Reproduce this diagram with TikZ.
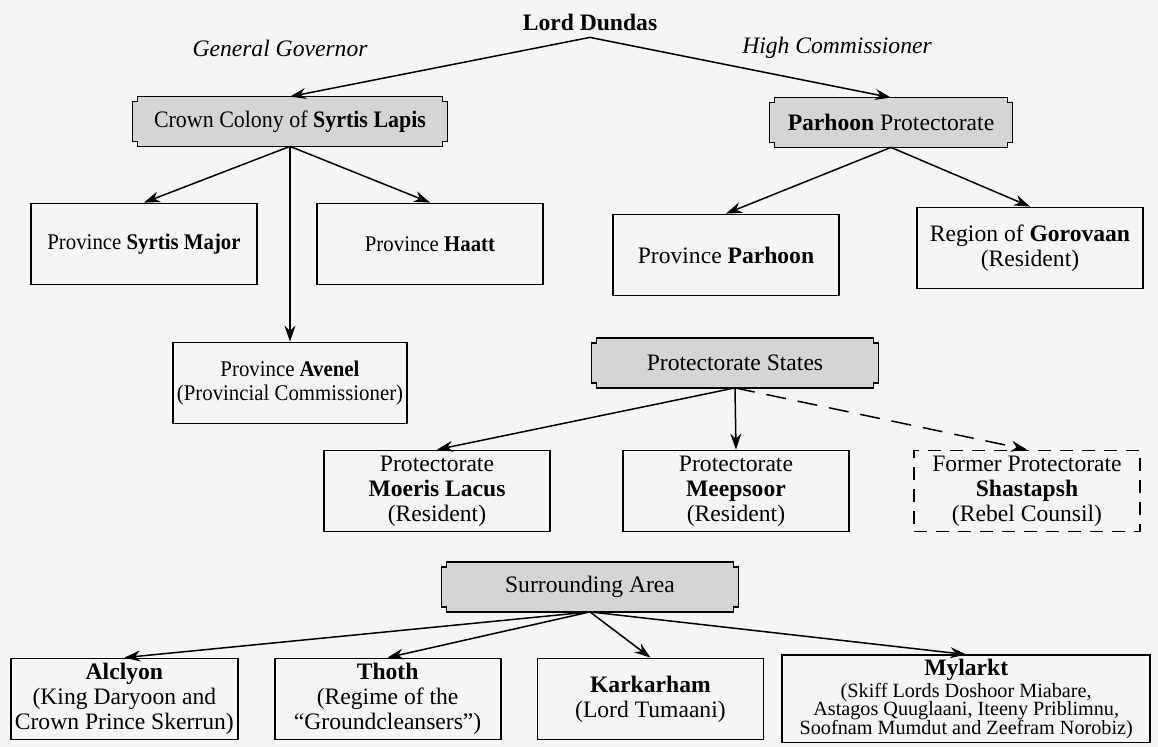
\documentclass[tikz,border=0pt]{standalone}
\usepackage{fontspec}
\setmainfont{Liberation Serif}
\newfontfamily\estrecha[FakeStretch=0.93]{Liberation Serif}
\usetikzlibrary{arrows.meta,calc,chains,backgrounds}

\definecolor{fondo}{RGB}{245,245,245}
\definecolor{gris}{RGB}{213,213,213}
\definecolor{sombra}{RGB}{95,95,95}

\newcommand{\chica}{\fontsize{10.1}{9.3}\selectfont}

\begin{document}
\begin{tikzpicture}[x=0.5pt, y=-0.5pt,
    caja/.style={draw, line width=0.9pt, fill=fondo,
        minimum width=113pt, minimum height=40.5pt,
        align=center, font=\fontsize{11.8}{12.5}\selectfont,
        inner sep=2pt},
    cajaestrecha/.style={caja, font=\fontsize{11.2}{11.7}\selectfont\estrecha},
    cajadash/.style={caja, dash pattern=on 6.5pt off 4.5pt},
    placa/.style={minimum height=24.5pt, align=center,
        font=\fontsize{11.8}{12.5}\selectfont, inner sep=0pt},
    rotulo/.style={font=\fontsize{11.8}{12.5}\selectfont\itshape},
    flecha/.style={-{Stealth[length=8pt,width=5.5pt]}, line width=0.75pt},
    node distance = 17.5pt
    ]
    \useasboundingbox (0,0) rectangle (1158,747);

    % cabecera
    \node[font=\fontsize{11.8}{12.5}\selectfont\bfseries] (dundas) at (590,22) {Lord Dundas};
    \node[rotulo] (gg) at (280,48) {General Governor};
    \node[rotulo] (hc) at (837,48) {High Commissioner};

    \node[placa, minimum width=157pt, font=\fontsize{11.8}{12.5}\selectfont\estrecha] (colony) at (290,121.5) {Crown Colony of \textbf{Syrtis Lapis}};
    \node[placa, minimum width=121pt] (parhoon) at (891,122.5) {\textbf{Parhoon} Protectorate};

    % provincias
    \node[cajaestrecha] (symajor) at (144,244) {Province \textbf{Syrtis Major}};
    \node[cajaestrecha] (haatt) at (430,244) {Province \textbf{Haatt}};
    \node[cajaestrecha] (avenel) at (290,383) {Province \textbf{Avenel}\\(Provincial Commissioner)};
    \node[caja] (provparhoon) at (726,255) {Province \textbf{Parhoon}};
    \node[caja] (gorovaan) at (1030,248) {Region of \textbf{Gorovaan}\\(Resident)};

    % protectorados
    \node[placa, minimum width=143pt] (states) at (735,363) {Protectorate States};
    \begin{scope}[every node/.append style={font=\fontsize{11.8}{11.6}\selectfont}]
    \node[caja] (moeris) at (437,491) {Protectorate\\\textbf{Moeris Lacus}\\(Resident)};
    \node[caja] (meepsoor) at (736,491) {Protectorate\\\textbf{Meepsoor}\\(Resident)};
    \node[cajadash] (shastapsh) at (1027,491) {Former Protectorate\\\textbf{Shastapsh}\\(Rebel Counsil)};
    \end{scope}

    % alrededores
    \node[placa, minimum width=148pt] (area) at (590,587) {Surrounding Area};
    \begin{scope}[start chain=fila going right, every node/.append style={minimum height=42pt}]
    \node[caja, on chain, anchor=west] (alclyon) at (10,699) {\textbf{Alclyon}\\(King Daryoon and\\Crown Prince Skerrun)};
    \node[caja, on chain] (thoth) {\textbf{Thoth}\\(Regime of the\\“Groundcleansers”)};
    \node[caja, on chain] (karkarham) {\textbf{Karkarham}\\(Lord Tumaani)};
    \node[caja, on chain, xshift=-9pt, minimum width=184pt,
        font=\fontsize{11.8}{9.3}\selectfont] (mylarkt) {\textbf{Mylarkt}\\\chica (Skiff Lords Doshoor Miabare,\\\chica Astagos Quuglaani, Iteeny Priblimnu,\\\chica Soofnam Mumdut and Zeefram Norobiz)};
    \end{scope}

    % flechas
    \draw[flecha] (dundas.south) -- (colony.north);
    \draw[flecha] (dundas.south) -- (parhoon.north);
    \foreach \hijo in {symajor,haatt,avenel}
        \draw[flecha] (colony.south) -- (\hijo.north);
    \foreach \hijo in {provparhoon,gorovaan}
        \draw[flecha] (parhoon.south) -- (\hijo.north);
    \foreach \hijo in {moeris,meepsoor}
        \draw[flecha] (states.south) -- (\hijo.north);
    \draw[flecha, dash pattern=on 10pt off 6pt] (states.south) -- (shastapsh.north);
    \foreach \hijo in {alclyon,thoth,karkarham,mylarkt}
        \draw[flecha] (area.south) -- (\hijo.north);

    % fondo y placas con esquinas recortadas
    \begin{scope}[on background layer]
    \fill[fondo] (0,0) rectangle (1158,747);
    \foreach \pl in {colony,parhoon,states,area}{
        \fill[sombra, shift={(3,3)}] let \p1=(\pl.north west), \p2=(\pl.south east) in
            (\x1+2.5pt,\y1) -- (\x2-2.5pt,\y1) -- (\x2-2.5pt,\y1-2.5pt) -- (\x2,\y1-2.5pt)
            -- (\x2,\y2+2.5pt) -- (\x2-2.5pt,\y2+2.5pt) -- (\x2-2.5pt,\y2) -- (\x1+2.5pt,\y2)
            -- (\x1+2.5pt,\y2+2.5pt) -- (\x1,\y2+2.5pt) -- (\x1,\y1-2.5pt) -- (\x1+2.5pt,\y1-2.5pt) -- cycle;
        \filldraw[fill=gris, line width=0.8pt] let \p1=(\pl.north west), \p2=(\pl.south east) in
            (\x1+2.5pt,\y1) -- (\x2-2.5pt,\y1) -- (\x2-2.5pt,\y1-2.5pt) -- (\x2,\y1-2.5pt)
            -- (\x2,\y2+2.5pt) -- (\x2-2.5pt,\y2+2.5pt) -- (\x2-2.5pt,\y2) -- (\x1+2.5pt,\y2)
            -- (\x1+2.5pt,\y2+2.5pt) -- (\x1,\y2+2.5pt) -- (\x1,\y1-2.5pt) -- (\x1+2.5pt,\y1-2.5pt) -- cycle;
    }
    \end{scope}
\end{tikzpicture}
\end{document}
